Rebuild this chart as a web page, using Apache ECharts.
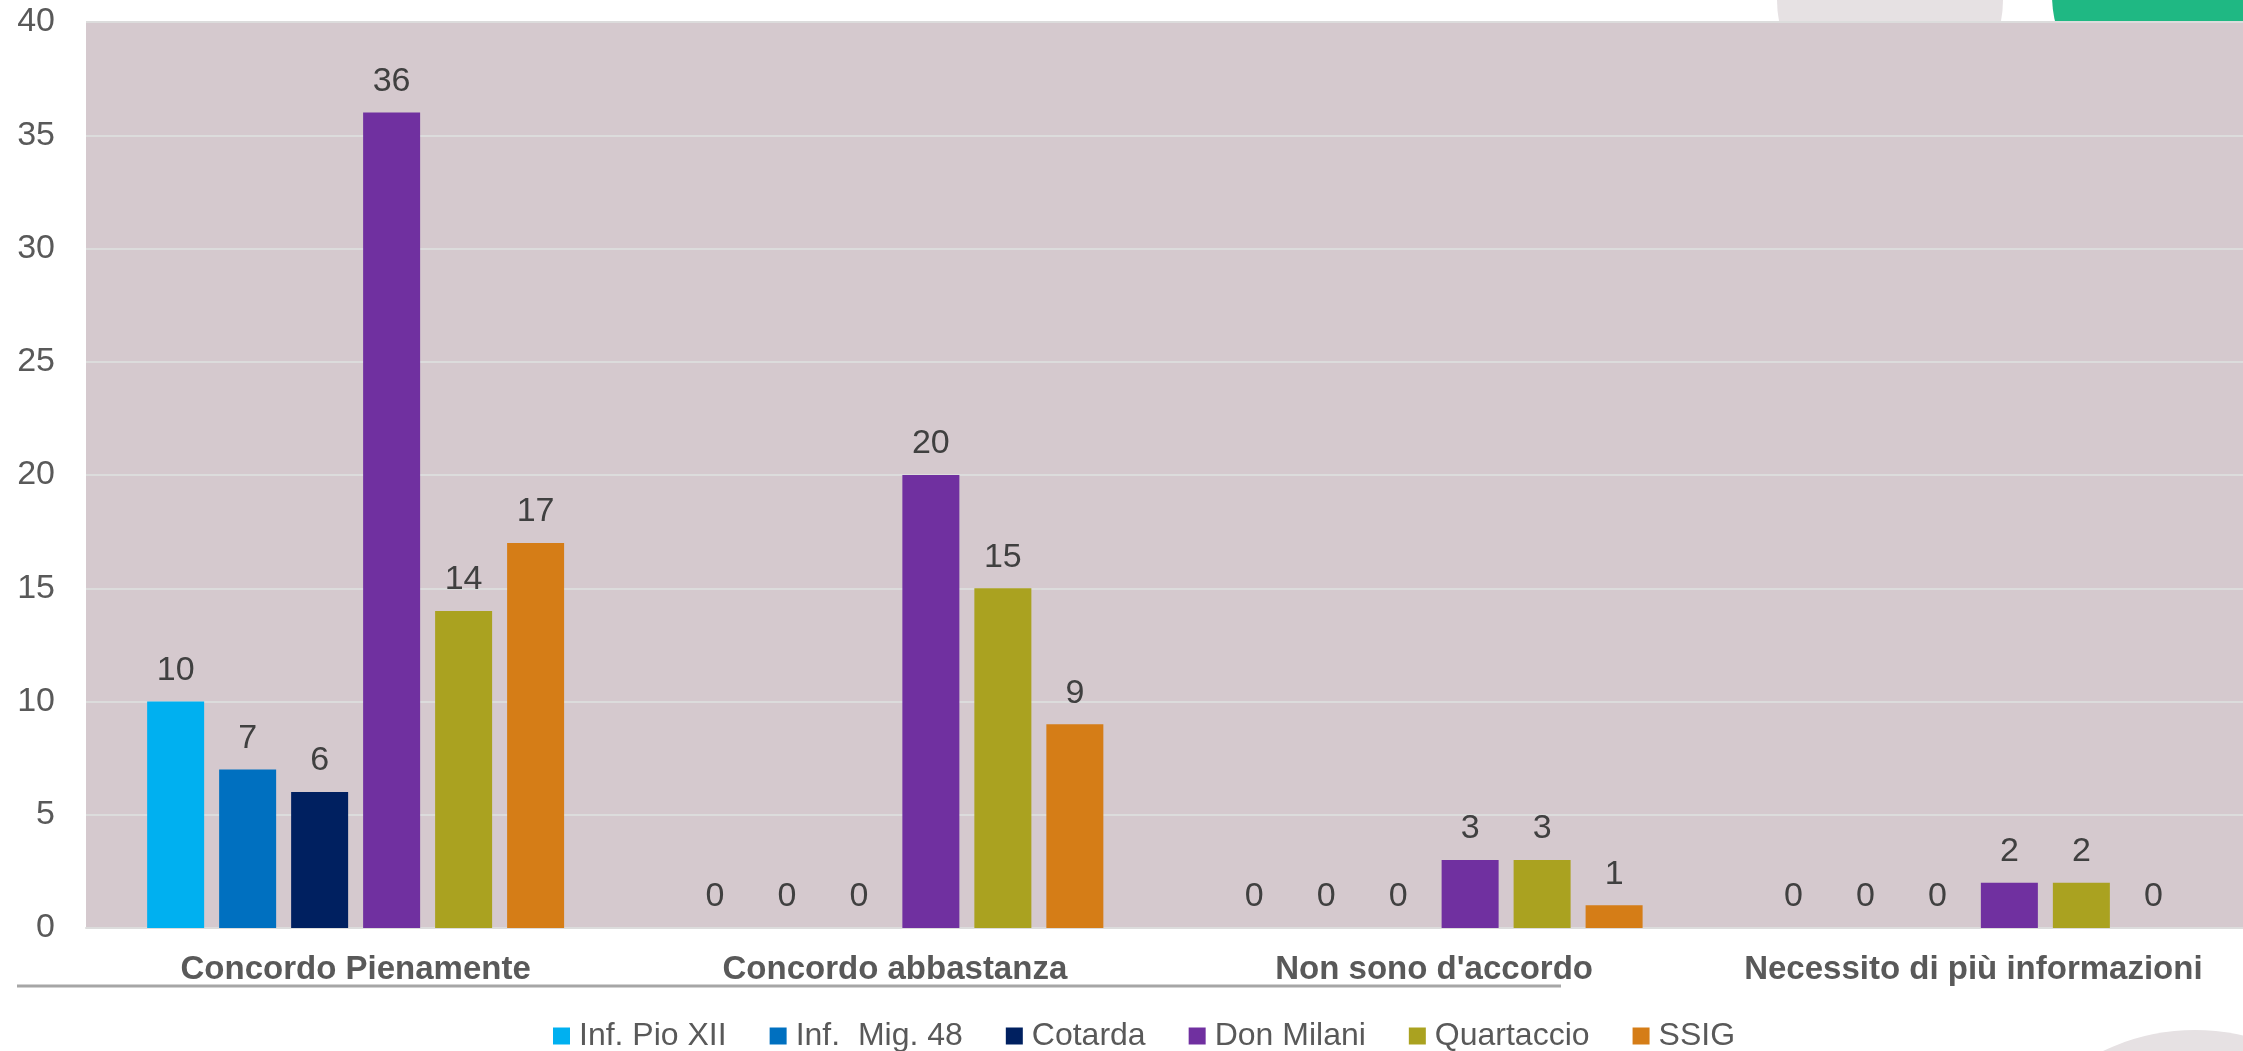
<!DOCTYPE html>
<html>
<head>
<meta charset="utf-8">
<script src="https://cdn.jsdelivr.net/npm/echarts@6/dist/echarts.min.js"></script>
<style>
html,body{margin:0;padding:0;background:#fff;}
#chart{width:2243px;height:1051px;}
</style>
</head>
<body>
<div id="chart"></div>
<script>
const categories = ['Concordo Pienamente', 'Concordo abbastanza', "Non sono d'accordo", 'Necessito di più informazioni'];
const seriesNames = ['Inf. Pio XII', 'Inf.  Mig. 48', 'Cotarda', 'Don Milani', 'Quartaccio', 'SSIG'];
const infPioXII = [10, 0, 0, 0];
const infMig48 = [7, 0, 0, 0];
const cotarda = [6, 0, 0, 0];
const donMilani = [36, 20, 3, 2];
const quartaccio = [14, 15, 3, 2];
const ssig = [17, 9, 1, 0];
const yTicks = { min: 0, max: 40, interval: 5 };

const colors = ['#00B0F0', '#0070C0', '#002060', '#7030A0', '#AAA220', '#D57D17'];
const values = [infPioXII, infMig48, cotarda, donMilani, quartaccio, ssig];
const FONT = 'Liberation Sans, Arial, sans-serif';

const chart = echarts.init(document.getElementById('chart'), null, { renderer: 'canvas' });
const option = {
  backgroundColor: '#ffffff',
  animation: false,
  color: colors,
  graphic: [
    { type: 'circle', z: -10, shape: { cx: 1890, cy: 0, r: 113 }, style: { fill: '#E6E1E3' } },
    { type: 'circle', z: -10, shape: { cx: 2170, cy: -5, r: 118 }, style: { fill: '#1FB883' } },
    { type: 'circle', z: -10, shape: { cx: 2195, cy: 1242, r: 212 }, style: { fill: '#E6E1E3' } },
    { type: 'line', z: 5, shape: { x1: 17, y1: 986, x2: 1561, y2: 986 }, style: { stroke: '#A6A6A6', lineWidth: 3 } }
  ],
  grid: {
    left: 86, right: 0, top: 22, bottom: 123,
    show: true, backgroundColor: '#D5C9CE', borderWidth: 0
  },
  legend: {
    left: 548, top: 1015,
    itemWidth: 17, itemHeight: 17, itemGap: 43,
    icon: 'rect',
    textStyle: { fontFamily: FONT, fontSize: 32, color: '#595959', padding: [0, 0, 0, 4] },
    data: seriesNames
  },
  xAxis: {
    type: 'category',
    data: categories,
    axisLine: { show: true, lineStyle: { color: '#DCDCDC', width: 2 } },
    axisTick: { show: false },
    axisLabel: { fontFamily: FONT, fontSize: 33, fontWeight: 'bold', color: '#595959', margin: 25, interval: 0 }
  },
  yAxis: {
    type: 'value',
    min: yTicks.min, max: yTicks.max, interval: yTicks.interval,
    axisLine: { show: false },
    axisTick: { show: false },
    splitLine: { lineStyle: { color: '#DCDCDC', width: 2 } },
    axisLabel: { fontFamily: FONT, fontSize: 34, color: '#595959', margin: 31 }
  },
  series: seriesNames.map((name, i) => ({
    name: name,
    type: 'bar',
    data: values[i],
    barWidth: 57,
    barGap: '26.3%',
    itemStyle: { color: colors[i] },
    label: {
      show: true, position: 'top', distance: 14,
      fontFamily: FONT, fontSize: 34, color: '#404040'
    }
  }))
};
chart.setOption(option);
</script>
</body>
</html>
